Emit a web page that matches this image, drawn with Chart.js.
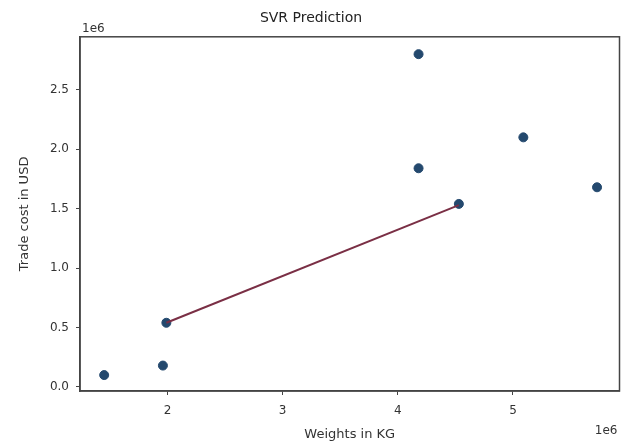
<!DOCTYPE html>
<html>
<head>
<meta charset="utf-8">
<script src="https://cdn.jsdelivr.net/npm/chart.js@4"></script>
<style>
  body { margin: 0; background: #fff; }
  #wrap { width: 625px; height: 444px; }
</style>
</head>
<body>
<div id="wrap"><canvas id="chart"></canvas></div>
<script>
// weights (x, in 1e6 kg) and trade cost (y, in 1e6 USD)
const weights = [1.45, 1.96, 1.99, 4.18, 4.18, 4.53, 5.09, 5.73];
const costs = [0.10, 0.18, 0.54, 2.80, 1.84, 1.54, 2.10, 1.68];

// SVR prediction line
const predWeights = [1.99, 4.53];
const predCosts = [0.54, 1.53];

const xTicks = [2, 3, 4, 5];
const yTicks = [0, 0.5, 1.0, 1.5, 2.0, 2.5];

const fontName = "DejaVu Sans";

let scatterPts = [];
for (let i = 0; i < weights.length; i++) {
    scatterPts.push({ x: weights[i], y: costs[i] });
}
let linePts = [];
for (let i = 0; i < predWeights.length; i++) {
    linePts.push({ x: predWeights[i], y: predCosts[i] });
}

// frame + offset texts, like matplotlib
const extras = {
    id: 'extras',
    afterDraw(chart) {
        const ctx = chart.ctx;
        const a = chart.chartArea;
        ctx.save();
        ctx.strokeStyle = '#444';
        ctx.lineWidth = 1.5;
        ctx.strokeRect(a.left, a.top, a.right - a.left, a.bottom - a.top);
        ctx.fillStyle = '#333';
        ctx.font = '12px "' + fontName + '"';
        ctx.textAlign = 'left';
        ctx.textBaseline = 'bottom';
        ctx.fillText('1e6', a.left + 2, a.top - 2);
        ctx.textAlign = 'right';
        ctx.textBaseline = 'top';
        ctx.fillText('1e6', a.right - 2, a.bottom + 34);
        ctx.restore();
    }
};

new Chart(document.getElementById('chart'), {
    type: 'scatter',
    data: {
        datasets: [
            {
                type: 'line',
                data: linePts,
                borderColor: '#7a2f45',
                borderWidth: 2,
                pointRadius: 0,
                fill: false,
                order: 0
            },
            {
                data: scatterPts,
                backgroundColor: '#24496e',
                borderColor: '#24496e',
                pointRadius: 4.5,
                order: 1
            }
        ]
    },
    plugins: [extras],
    options: {
        responsive: true,
        maintainAspectRatio: false,
        animation: false,
        layout: { padding: { top: 0, right: 3, left: 0, bottom: 0 } },
        plugins: {
            legend: { display: false },
            tooltip: { enabled: false },
            title: {
                display: true,
                text: 'SVR Prediction',
                color: '#222',
                font: { family: fontName, size: 14, weight: 'normal' },
                padding: { top: 10, bottom: 10 }
            }
        },
        scales: {
            x: {
                type: 'linear',
                min: 1.24,
                max: 5.925,
                afterBuildTicks: s => { s.ticks = xTicks.map(v => ({ value: v })); },
                afterFit: s => { s.height = 53; },
                ticks: {
                    color: '#333',
                    font: { family: fontName, size: 12 },
                    padding: 9,
                    maxRotation: 0,
                    callback: v => String(v)
                },
                grid: { drawOnChartArea: false, drawTicks: true, tickLength: 4, color: '#444' },
                border: { display: true, color: '#444', width: 1.5 },
                title: {
                    display: true,
                    text: 'Weights in KG',
                    color: '#333',
                    font: { family: fontName, size: 13 },
                    padding: { top: 0, bottom: 2 }
                }
            },
            y: {
                type: 'linear',
                min: -0.034,
                max: 2.946,
                afterBuildTicks: s => { s.ticks = yTicks.map(v => ({ value: v })); },
                afterFit: s => { s.width = 80; },
                ticks: {
                    color: '#333',
                    font: { family: fontName, size: 12 },
                    padding: 7,
                    callback: v => Number(v).toFixed(1)
                },
                grid: { drawOnChartArea: false, drawTicks: true, tickLength: 4, color: '#444' },
                border: { display: true, color: '#444', width: 1.5 },
                title: {
                    display: true,
                    text: 'Trade cost in USD',
                    color: '#333',
                    font: { family: fontName, size: 13 },
                    padding: { top: 17, bottom: 0 }
                }
            }
        }
    }
});
</script>
</body>
</html>
